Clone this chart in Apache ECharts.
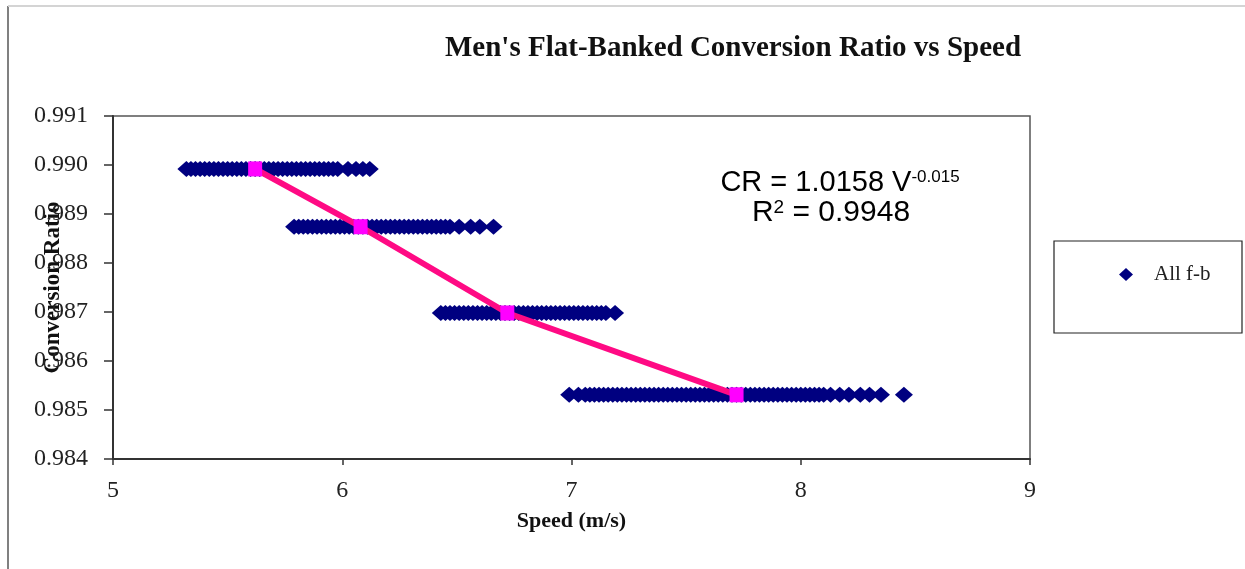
<!DOCTYPE html>
<html>
<head>
<meta charset="utf-8">
<script src="https://cdn.jsdelivr.net/npm/echarts@6/dist/echarts.min.js"></script>
<style>
html,body{margin:0;padding:0;background:#fff;}
#chart{width:1245px;height:569px;}
</style>
</head>
<body>
<div id="chart"></div>
<script>
// ---- data ----
var titleText = "Men's Flat-Banked Conversion Ratio vs Speed";
var xAxisName = 'Speed (m/s)';
var yAxisName = 'Conversion Ratio';
var seriesName = 'All f-b';
var xTicks = [5, 6, 7, 8, 9];
var yTicks = [0.984, 0.985, 0.986, 0.987, 0.988, 0.989, 0.990, 0.991];

// conversion ratio of each horizontal band of points
var bandRatios = [0.98992, 0.98874, 0.98698, 0.98531];
// speeds of the points in each band (m/s)
var band1Speeds = [5.32, 5.34, 5.36, 5.38, 5.40, 5.42, 5.44, 5.46, 5.48, 5.50, 5.52, 5.54, 5.56, 5.58, 5.60, 5.62, 5.64, 5.66, 5.68,
  5.70, 5.72, 5.74, 5.76, 5.78, 5.80, 5.82, 5.84, 5.86, 5.88, 5.90, 5.92, 5.94, 5.96, 5.98, 6.025, 6.06, 6.09, 6.12];
var band2Speeds = [5.79, 5.81, 5.83, 5.85, 5.87, 5.89, 5.91, 5.93, 5.95, 5.97, 5.99, 6.01, 6.03, 6.05, 6.07, 6.09, 6.11, 6.13, 6.15,
  6.17, 6.19, 6.21, 6.23, 6.25, 6.27, 6.29, 6.31, 6.33, 6.35, 6.37, 6.39, 6.41, 6.43, 6.45, 6.47, 6.51, 6.56, 6.60, 6.66];
var band3Speeds = [6.43, 6.45, 6.47, 6.49, 6.51, 6.53, 6.55, 6.57, 6.59, 6.61, 6.63, 6.65, 6.67, 6.69, 6.71, 6.73, 6.75, 6.77, 6.79,
  6.81, 6.83, 6.85, 6.87, 6.89, 6.91, 6.93, 6.95, 6.97, 6.99, 7.01, 7.03, 7.05, 7.07, 7.09, 7.11, 7.13, 7.15, 7.19];
var band4Speeds = [6.99, 7.03, 7.06, 7.08, 7.10, 7.12, 7.14, 7.16, 7.18, 7.20, 7.22, 7.24, 7.26, 7.28, 7.30, 7.32, 7.34, 7.36, 7.38,
  7.40, 7.42, 7.44, 7.46, 7.48, 7.50, 7.52, 7.54, 7.56, 7.58, 7.60, 7.62, 7.64, 7.66, 7.68, 7.70, 7.72, 7.74, 7.76, 7.78, 7.80,
  7.82, 7.84, 7.86, 7.88, 7.90, 7.92, 7.94, 7.96, 7.98, 8.00, 8.02, 8.04, 8.06, 8.08, 8.10, 8.13, 8.17, 8.21, 8.26, 8.30, 8.35, 8.45];
// mean point of each band (pink markers joined by the fitted line)
var meanSpeeds = [5.62, 6.08, 6.72, 7.72];
var meanRatios = [0.98992, 0.98874, 0.98698, 0.98531];
var fitLine1 = 'CR = 1.0158 V';
var fitExp = '-0.015';
var fitLine2a = 'R';
var fitLine2sup = '2';
var fitLine2b = ' = 0.9948';

// ---- build series data ----
var bands = [band1Speeds, band2Speeds, band3Speeds, band4Speeds];
var scatterData = [];
bands.forEach(function (sp, i) {
  sp.forEach(function (v) { scatterData.push([v, bandRatios[i]]); });
});
var meanData = meanSpeeds.map(function (v, i) { return [v, meanRatios[i]]; });

var serif = "'Liberation Serif', 'Times New Roman', serif";
var sans = "'Liberation Sans', Arial, sans-serif";

var chart = echarts.init(document.getElementById('chart'), null, {renderer: 'canvas'});
chart.setOption({
  backgroundColor: '#ffffff',
  animation: false,
  title: {
    text: titleText,
    left: 440, top: 29,
    textStyle: {fontFamily: serif, fontWeight: 'bold', fontSize: 29, color: '#111'}
  },
  grid: {
    left: 113, right: 215, top: 116, bottom: 110,
    show: true, borderColor: '#555', borderWidth: 1.5, backgroundColor: 'transparent'
  },
  legend: {
    data: [seriesName],
    left: 1114, top: 259,
    icon: 'diamond',
    itemWidth: 14, itemHeight: 13,
    itemStyle: {color: '#000080', opacity: 1},
    textStyle: {fontFamily: serif, fontSize: 21, color: '#222', padding: [0, 0, 0, 16]}
  },
  xAxis: {
    type: 'value',
    min: xTicks[0], max: xTicks[xTicks.length - 1], interval: 1,
    name: xAxisName, nameLocation: 'middle', nameGap: 51, nameMoveOverlap: false,
    nameTextStyle: {fontFamily: serif, fontWeight: 'bold', fontSize: 22, color: '#111'},
    axisLine: {show: true, onZero: false, lineStyle: {color: '#333', width: 2}},
    axisTick: {show: true, inside: false, length: 6, lineStyle: {color: '#333', width: 1.5}},
    axisLabel: {fontFamily: serif, fontSize: 24, color: '#222', margin: 20},
    splitLine: {show: false}
  },
  yAxis: {
    type: 'value',
    min: yTicks[0], max: yTicks[yTicks.length - 1], interval: 0.001,
    name: yAxisName, nameLocation: 'middle', nameGap: 48, nameMoveOverlap: false,
    nameTextStyle: {fontFamily: serif, fontWeight: 'bold', fontSize: 23, color: '#111'},
    axisLine: {show: true, onZero: false, lineStyle: {color: '#333', width: 2}},
    axisTick: {show: true, inside: false, length: 9, lineStyle: {color: '#333', width: 1.5}},
    axisLabel: {fontFamily: serif, fontSize: 24, color: '#222', margin: 25,
      formatter: function (v) { return v.toFixed(3); }},
    splitLine: {show: false}
  },
  series: [
    {
      name: seriesName,
      type: 'scatter',
      symbol: 'diamond',
      symbolSize: [18, 16],
      itemStyle: {color: '#000080', opacity: 1},
      emphasis: {disabled: true},
      data: scatterData,
      z: 2
    },
    {
      name: 'fit',
      type: 'line',
      data: meanData,
      symbol: 'rect',
      symbolSize: [14, 15],
      showSymbol: true,
      itemStyle: {color: '#FF00FF', opacity: 1},
      lineStyle: {color: '#FF0A84', width: 6},
      emphasis: {disabled: true},
      z: 3
    }
  ],
  graphic: [
    {type: 'line', shape: {x1: 8, y1: 6, x2: 8, y2: 569}, style: {stroke: '#808080', lineWidth: 2}},
    {type: 'line', shape: {x1: 8, y1: 6, x2: 1245, y2: 6}, style: {stroke: '#d4d4d4', lineWidth: 2}},
    {type: 'rect', shape: {x: 1054, y: 241, width: 188, height: 92},
      style: {fill: 'none', stroke: '#222', lineWidth: 1.2}},
    {type: 'text', x: 840, y: 183,
      style: {
        text: '{a|' + fitLine1 + '}{s|' + fitExp + '}',
        align: 'center', verticalAlign: 'middle',
        rich: {
          a: {fontFamily: sans, fontSize: 29, color: '#111'},
          s: {fontFamily: sans, fontSize: 17, color: '#111', verticalAlign: 'top'}
        }
      }
    },
    {type: 'text', x: 831, y: 213,
      style: {
        text: '{a|' + fitLine2a + '}{s|' + fitLine2sup + '}{a|' + fitLine2b + '}',
        align: 'center', verticalAlign: 'middle',
        rich: {
          a: {fontFamily: sans, fontSize: 30, color: '#111'},
          s: {fontFamily: sans, fontSize: 19, color: '#111', verticalAlign: 'top'}
        }
      }
    }
  ]
});
</script>
</body>
</html>
